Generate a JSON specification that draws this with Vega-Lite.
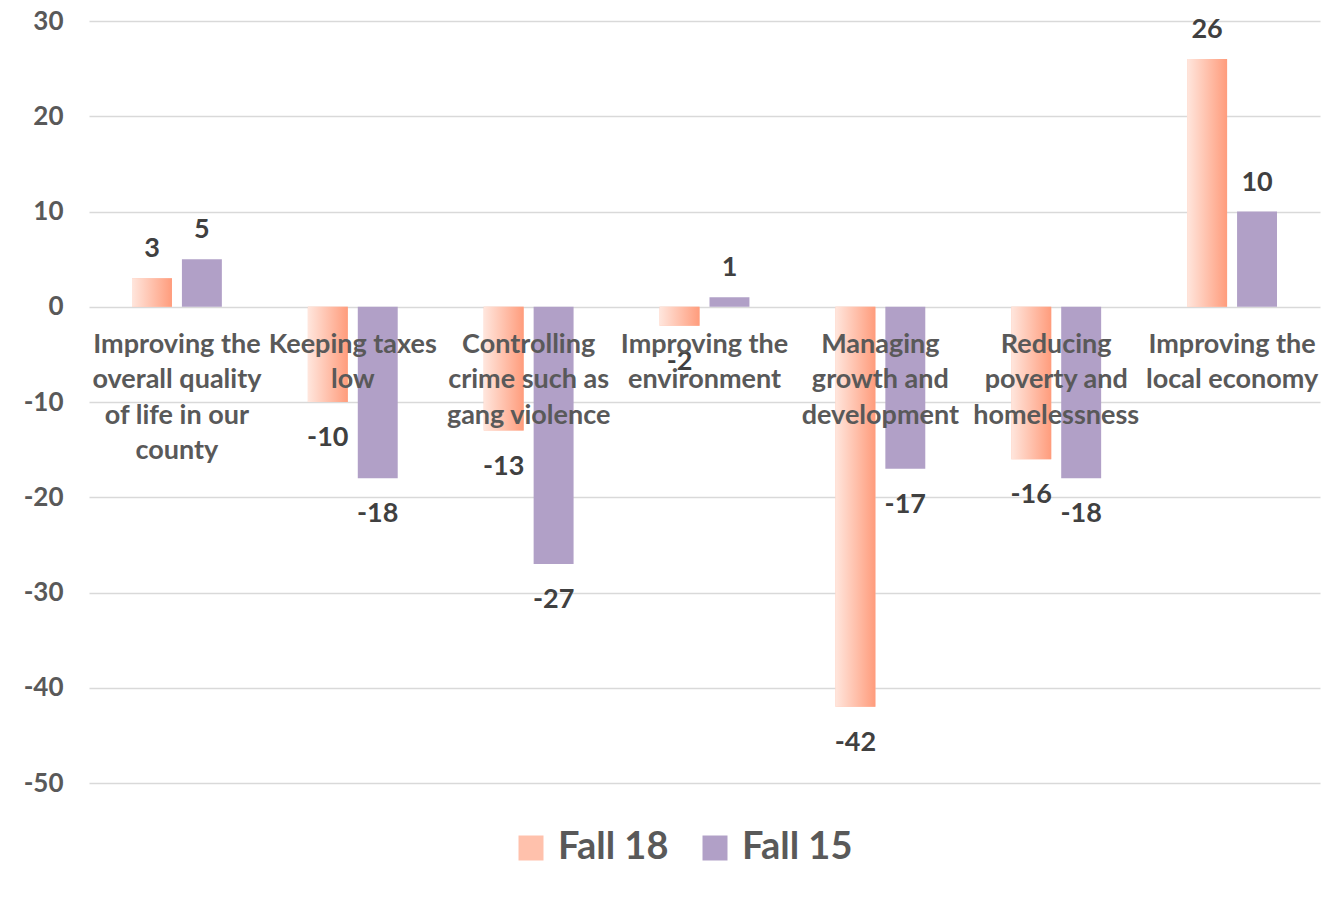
{
  "$schema": "https://vega.github.io/schema/vega-lite/v6.json",
  "width": 1231,
  "height": 762,
  "autosize": "none",
  "padding": {"left": 89, "top": 21, "right": 19, "bottom": 114},
  "background": "white",
  "config": {
    "view": {"stroke": null},
    "font": "Lato"
  },
  "data": {
    "values": [
      {"category": "Improving the overall quality of life in our county", "series": "Fall 18", "value": 3},
      {"category": "Improving the overall quality of life in our county", "series": "Fall 15", "value": 5},
      {"category": "Keeping taxes low", "series": "Fall 18", "value": -10},
      {"category": "Keeping taxes low", "series": "Fall 15", "value": -18},
      {"category": "Controlling crime such as gang violence", "series": "Fall 18", "value": -13},
      {"category": "Controlling crime such as gang violence", "series": "Fall 15", "value": -27},
      {"category": "Improving the environment", "series": "Fall 18", "value": -2},
      {"category": "Improving the environment", "series": "Fall 15", "value": 1},
      {"category": "Managing growth and development", "series": "Fall 18", "value": -42},
      {"category": "Managing growth and development", "series": "Fall 15", "value": -17},
      {"category": "Reducing poverty and homelessness", "series": "Fall 18", "value": -16},
      {"category": "Reducing poverty and homelessness", "series": "Fall 15", "value": -18},
      {"category": "Improving the local economy", "series": "Fall 18", "value": 26},
      {"category": "Improving the local economy", "series": "Fall 15", "value": 10}
    ]
  },
  "encoding": {
    "x": {
      "field": "category",
      "type": "nominal",
      "sort": null,
      "scale": {"paddingInner": 0.489, "paddingOuter": 0.2445},
      "axis": {
        "title": null,
        "orient": "bottom",
        "offset": -476,
        "domain": false,
        "ticks": false,
        "grid": false,
        "zindex": 1,
        "labelAngle": 0,
        "labelFont": "Lato",
        "labelFontSize": 27,
        "labelFontWeight": "bold",
        "labelColor": "#595959",
        "labelPadding": 24,
        "labelLineHeight": 35.5,
        "labelBaseline": "top",
        "labelLimit": 400,
        "labelOverlap": false,
        "labelExpr": "datum.label == 'Improving the overall quality of life in our county' ? ['Improving the', 'overall quality', 'of life in our', 'county'] : datum.label == 'Keeping taxes low' ? ['Keeping taxes', 'low'] : datum.label == 'Controlling crime such as gang violence' ? ['Controlling', 'crime such as', 'gang violence'] : datum.label == 'Improving the environment' ? ['Improving the', 'environment'] : datum.label == 'Managing growth and development' ? ['Managing', 'growth and', 'development'] : datum.label == 'Reducing poverty and homelessness' ? ['Reducing', 'poverty and', 'homelessness'] : ['Improving the', 'local economy']"
      }
    },
    "xOffset": {
      "field": "series",
      "type": "nominal",
      "sort": ["Fall 18", "Fall 15"],
      "scale": {"domain": ["Fall 18", "Fall 15"], "paddingInner": 0.2, "paddingOuter": 0}
    },
    "y": {
      "field": "value",
      "type": "quantitative",
      "scale": {"domain": [-50, 30], "nice": false},
      "axis": {
        "title": null,
        "values": [-50, -40, -30, -20, -10, 0, 10, 20, 30],
        "labelExpr": "'' + datum.value",
        "domain": false,
        "ticks": false,
        "grid": true,
        "gridColor": "#D9D9D9",
        "gridWidth": 1.5,
        "labelFont": "Lato",
        "labelFontSize": 26,
        "labelFontWeight": "bold",
        "labelColor": "#595959",
        "labelPadding": 26
      }
    }
  },
  "layer": [
    {
      "mark": {"type": "bar"},
      "encoding": {
        "color": {
          "field": "series",
          "type": "nominal",
          "sort": ["Fall 18", "Fall 15"],
          "scale": {
            "domain": ["Fall 18", "Fall 15"],
            "range": ["#FFC1AC", "#B1A0C7"]
          },
          "legend": {
            "title": null,
            "orient": "none",
            "direction": "horizontal",
            "legendX": 423,
            "legendY": 808,
            "symbolType": "square",
            "symbolSize": 625,
            "symbolStrokeWidth": 0,
            "labelFont": "Lato",
            "labelFontSize": 38,
            "labelFontWeight": "bold",
            "labelColor": "#595959",
            "labelOffset": 8,
            "columnPadding": 27,
            "labelLimit": 300
          }
        }
      }
    },
    {
      "transform": [{"filter": "datum.series == 'Fall 18'"}],
      "mark": {
        "type": "bar",
        "fill": {"gradient": "linear", "x1": 0, "y1": 0, "x2": 1, "y2": 0, "stops": [{"offset": 0, "color": "#FFE6DD"}, {"offset": 1, "color": "#FF9C7C"}]}
      },
      "encoding": {}
    },
    {
      "transform": [{"filter": "datum.value >= 0"}],
      "mark": {"type": "text", "baseline": "bottom", "dy": -15, "font": "Lato", "fontSize": 27, "fontWeight": "bold", "color": "#404040"},
      "encoding": {"text": {"field": "value", "type": "nominal"}}
    },
    {
      "transform": [{"filter": "datum.value < 0"}],
      "mark": {"type": "text", "baseline": "top", "dy": 23, "font": "Lato", "fontSize": 27, "fontWeight": "bold", "color": "#404040"},
      "encoding": {"text": {"field": "value", "type": "nominal"}}
    }
  ]
}
